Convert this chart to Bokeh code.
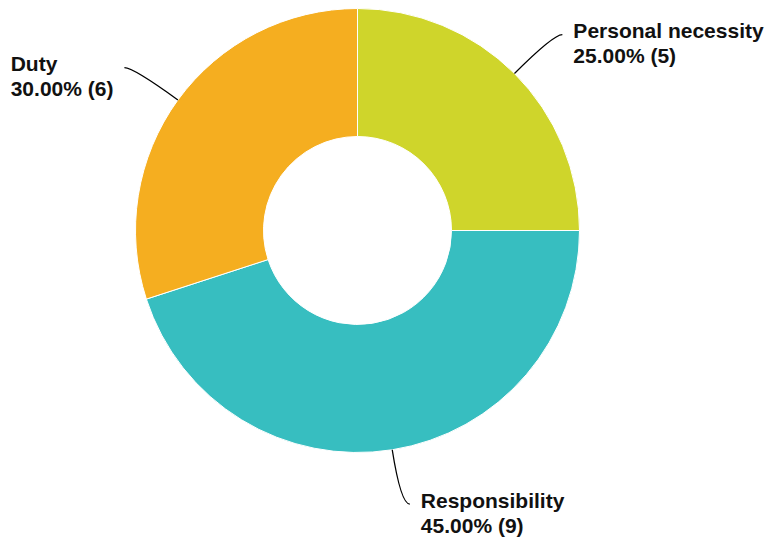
import math
from bokeh.plotting import figure
from bokeh.models import Range1d
from bokeh.core.properties import value
from bokeh.embed import file_html
from bokeh.resources import INLINE

# ---- data ----
categories = ["Personal necessity", "Responsibility", "Duty"]
counts = [5, 9, 6]
colors = ["#CFD52B", "#37BEC0", "#F5AE20"]

# ---- layout ----
W, H = 768, 541
CX, CY = 357, 311          # donut centre (data units == pixels, y up)
R_OUT, R_IN = 222, 94
R_ELBOW, H_SEG, GAP = 277, 9, 11
FONT = "Liberation Sans"
FSIZE = 21
LINE_GAP = 25

CHAR_W = {'0': 556, '1': 556, '2': 556, '3': 556, '4': 556, '5': 556, '6': 556, '7': 556,
          '8': 556, '9': 556, '.': 278, '%': 889, ' ': 278, '(': 333, ')': 333,
          'a': 556, 'b': 611, 'c': 556, 'd': 611, 'e': 556, 'f': 333, 'g': 611, 'h': 611,
          'i': 278, 'j': 278, 'k': 556, 'l': 278, 'm': 889, 'n': 611, 'o': 611, 'p': 611,
          'q': 611, 'r': 389, 's': 556, 't': 333, 'u': 611, 'v': 556, 'w': 778, 'x': 556,
          'y': 556, 'z': 500, 'P': 667, 'R': 722, 'D': 722}


def text_width(s):
    return sum(CHAR_W.get(c, 600) for c in s) / 1000.0 * FSIZE


p = figure(width=W, height=H, output_backend="svg", toolbar_location=None,
           x_range=Range1d(0, W), y_range=Range1d(0, H),
           x_axis_type=None, y_axis_type=None, min_border=0)
p.outline_line_color = None
p.xgrid.visible = False
p.ygrid.visible = False
p.background_fill_color = "white"
p.border_fill_color = "white"

total = float(sum(counts))
cum = 0.0
starts, ends = [], []
for c in counts:
    before = cum / total
    cum += c
    after = cum / total
    starts.append(math.radians(90 - after * 360))
    ends.append(math.radians(90 - before * 360))

p.annular_wedge(x=CX, y=CY, inner_radius=R_IN, outer_radius=R_OUT,
                start_angle=starts, end_angle=ends, direction="anticlock",
                fill_color=colors, line_color="white", line_width=1)

for cat, c, a0, a1 in zip(categories, counts, starts, ends):
    mid = (a0 + a1) / 2
    dx, dy = math.cos(mid), math.sin(mid)
    sx, sy = CX + R_OUT * dx, CY + R_OUT * dy
    ex, ey = CX + R_ELBOW * dx, CY + R_ELBOW * dy
    side = 1 if dx >= 0 else -1
    tx, ty = ex + side * H_SEG, ey
    p.quadratic(x0=[sx], y0=[sy], x1=[tx], y1=[ty], cx=[ex], cy=[ey],
                line_color="black", line_width=1.3)
    line1 = cat
    line2 = "%.2f%% (%d)" % (c / total * 100, c)
    if side > 0:
        lx = tx + GAP
    else:
        lx = tx - GAP - max(text_width(line1), text_width(line2))
    base = ty + 4
    p.text(x=[lx, lx], y=[base, base - LINE_GAP], text=[line1, line2],
           text_font=value(FONT), text_font_style="bold",
           text_font_size="%dpx" % FSIZE, text_color="#111111",
           text_align="left", text_baseline="alphabetic")

open("out.html", "w").write(file_html(p, INLINE))
